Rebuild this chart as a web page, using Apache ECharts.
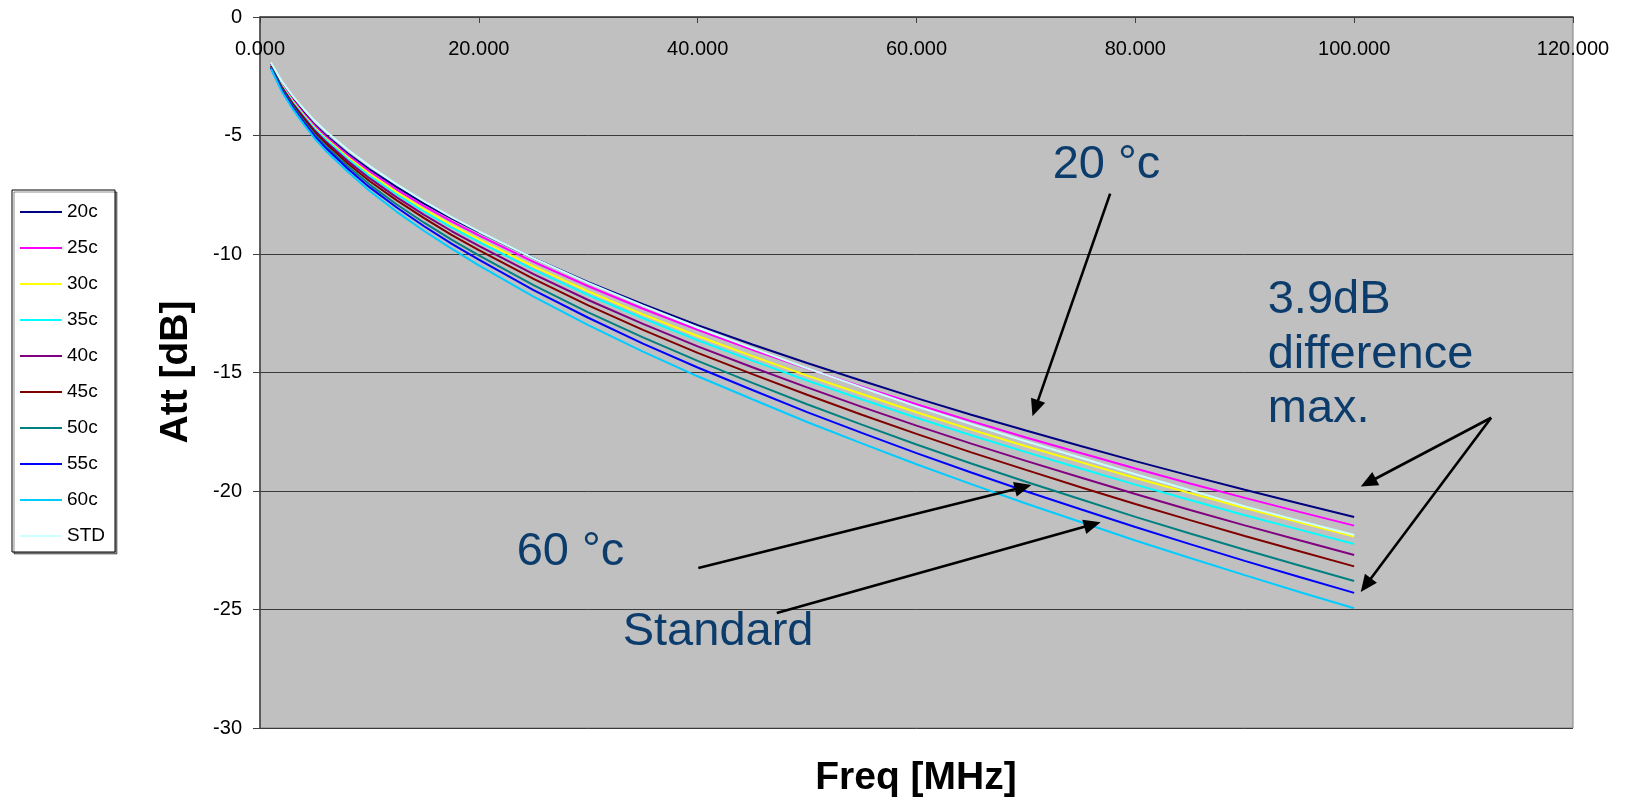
<!DOCTYPE html>
<html>
<head>
<meta charset="utf-8">
<script src="https://cdn.jsdelivr.net/npm/echarts@6/dist/echarts.min.js"></script>
<style>
html,body{margin:0;padding:0;background:#fff;}
#chart{width:1626px;height:803px;}
</style>
</head>
<body>
<div id="chart"></div>
<script>
// ---- data ----
const freq = [1,2,3,4,5,6,8,10,12.5,15,17.5,20,25,30,35,40,45,50,55,60,65,70,75,80,85,90,95,100];
const seriesNames = ['20c','25c','30c','35c','40c','45c','50c','55c','60c','STD'];
const att20c = [-1.97,-2.82,-3.47,-4.03,-4.55,-4.98,-5.75,-6.43,-7.18,-7.87,-8.50,-9.08,-10.18,-11.19,-12.12,-13.00,-13.82,-14.60,-15.35,-16.08,-16.78,-17.45,-18.10,-18.74,-19.35,-19.95,-20.53,-21.10];
const att25c = [-1.99,-2.85,-3.51,-4.08,-4.60,-5.04,-5.82,-6.51,-7.28,-7.98,-8.62,-9.21,-10.33,-11.36,-12.31,-13.20,-14.04,-14.83,-15.60,-16.34,-17.05,-17.74,-18.40,-19.05,-19.68,-20.29,-20.88,-21.46];
const att30c = [-2.02,-2.89,-3.56,-4.14,-4.67,-5.12,-5.91,-6.62,-7.40,-8.12,-8.77,-9.38,-10.52,-11.58,-12.55,-13.46,-14.31,-15.13,-15.91,-16.68,-17.41,-18.11,-18.78,-19.45,-20.09,-20.72,-21.32,-21.92];
const att35c = [-2.03,-2.92,-3.60,-4.18,-4.72,-5.17,-5.98,-6.70,-7.49,-8.21,-8.88,-9.49,-10.66,-11.73,-12.71,-13.64,-14.50,-15.34,-16.13,-16.91,-17.65,-18.36,-19.05,-19.73,-20.38,-21.02,-21.63,-22.24];
const att40c = [-2.06,-2.96,-3.65,-4.24,-4.79,-5.25,-6.07,-6.80,-7.61,-8.35,-9.03,-9.66,-10.85,-11.94,-12.95,-13.90,-14.78,-15.63,-16.45,-17.24,-18.00,-18.73,-19.43,-20.13,-20.80,-21.45,-22.08,-22.70];
const att45c = [-2.08,-3.00,-3.70,-4.30,-4.86,-5.33,-6.17,-6.92,-7.74,-8.49,-9.19,-9.84,-11.05,-12.17,-13.20,-14.17,-15.07,-15.94,-16.78,-17.59,-18.37,-19.11,-19.84,-20.55,-21.23,-21.90,-22.54,-23.18];
const att50c = [-2.12,-3.05,-3.77,-4.38,-4.96,-5.44,-6.29,-7.06,-7.91,-8.68,-9.39,-10.06,-11.31,-12.46,-13.52,-14.51,-15.44,-16.34,-17.20,-18.04,-18.84,-19.61,-20.35,-21.09,-21.79,-22.48,-23.14,-23.80];
const att55c = [-2.15,-3.09,-3.82,-4.45,-5.03,-5.52,-6.39,-7.18,-8.04,-8.83,-9.56,-10.24,-11.52,-12.69,-13.78,-14.79,-15.74,-16.67,-17.55,-18.40,-19.22,-20.01,-20.77,-21.52,-22.24,-22.95,-23.63,-24.30];
const att60c = [-2.18,-3.15,-3.89,-4.53,-5.13,-5.64,-6.52,-7.33,-8.22,-9.03,-9.77,-10.48,-11.80,-13.00,-14.12,-15.16,-16.13,-17.09,-17.99,-18.87,-19.71,-20.53,-21.31,-22.09,-22.83,-23.55,-24.26,-24.95];
const attSTD = [-1.92,-2.72,-3.34,-3.88,-4.38,-4.81,-5.59,-6.28,-7.06,-7.78,-8.44,-9.05,-10.18,-11.22,-12.18,-13.10,-13.97,-14.82,-15.63,-16.43,-17.18,-17.90,-18.60,-19.29,-19.97,-20.65,-21.26,-21.86];
const xTicks = [0,20,40,60,80,100,120];
const yTicks = [-30,-25,-20,-15,-10,-5,0];

// ---- annotation texts and arrows (anchored in data units) ----
const annoTexts = ['20 °c','60 °c','Standard','3.9dB','difference','max.'];
const annoAnchors = [[72.45,-6.25],[23.46,-22.58],[33.15,-25.96],[92.1,-11.95],[92.1,-14.25],[92.1,-16.55]];
const arrows = [
  [[77.7,-7.45],[70.6,-16.85]],
  [[40.06,-23.25],[70.5,-19.75]],
  [[47.23,-25.15],[76.83,-21.32]],
  [[112.52,-16.91],[100.6,-19.81]],
  [[112.52,-16.91],[100.6,-24.26]]
];

const colors = ['#000080','#FF00FF','#FFFF00','#00FFFF','#800080','#800000','#008080','#0000FF','#00CCFF','#CCFFFF'];
const allData = [att20c,att25c,att30c,att35c,att40c,att45c,att50c,att55c,att60c,attSTD];
const FONT = '"Liberation Sans", Arial, sans-serif';

const chart = echarts.init(document.getElementById('chart'), null, {renderer:'canvas'});
const option = {
  animation: false,
  backgroundColor: '#ffffff',
  color: colors,
  grid: {left:260, top:17, right:53, bottom:75, show:true, backgroundColor:'#C0C0C0', borderColor:'#808080', borderWidth:1},
  legend: {
    orient:'vertical', left:12, top:190,
    data: seriesNames.map(n => ({name:n, icon:'rect'})),
    itemWidth:42, itemHeight:2, itemGap:16,
    padding:[12,10,6,8],
    backgroundColor:'#ffffff', borderColor:'#000000', borderWidth:1,
    shadowColor:'rgba(0,0,0,0.45)', shadowOffsetX:2, shadowOffsetY:2, shadowBlur:0,
    textStyle:{fontSize:19, lineHeight:20, color:'#000', fontFamily:FONT},
    selectedMode:false
  },
  xAxis: {
    type:'value', position:'top', min:xTicks[0], max:xTicks[xTicks.length-1], interval:xTicks[1]-xTicks[0],
    axisLine:{show:true, onZero:false, lineStyle:{color:'#404040', width:1.5}},
    axisTick:{show:true, inside:true, length:6, lineStyle:{color:'#404040'}},
    axisLabel:{inside:true, margin:22, showMinLabel:true, showMaxLabel:true, fontSize:20, color:'#000', fontFamily:FONT,
      formatter: v => v.toFixed(3)},
    splitLine:{show:false}
  },
  yAxis: {
    type:'value', min:yTicks[0], max:yTicks[yTicks.length-1], interval:yTicks[1]-yTicks[0],
    axisLine:{show:true, onZero:false, lineStyle:{color:'#404040', width:1.5}},
    axisTick:{show:true, length:7, lineStyle:{color:'#404040'}},
    axisLabel:{margin:18, fontSize:20, color:'#000', fontFamily:FONT},
    splitLine:{show:true, lineStyle:{color:'#3a3a3a', width:1}}
  },
  series: seriesNames.map((n,i) => ({
    name:n, type:'line', symbol:'none', showSymbol:false,
    lineStyle:{width:2, color:colors[i]}, itemStyle:{color:colors[i]},
    data: freq.map((f,j) => [f, allData[i][j]])
  })),
  graphic: []
};
chart.setOption(option);

function drawAnnotations(){
  const g = [];
  g.push({type:'text', x:176, y:372, rotation:Math.PI/2, z:50,
    style:{text:'Att [dB]', font:'bold 39px '+FONT, fill:'#000', align:'center', verticalAlign:'middle'}});
  g.push({type:'text', x:916, y:778, z:50,
    style:{text:'Freq [MHz]', font:'bold 39px '+FONT, fill:'#000', align:'center', verticalAlign:'middle'}});
  annoTexts.forEach((t,i) => {
    const p = chart.convertToPixel({gridIndex:0}, annoAnchors[i]);
    g.push({type:'text', x:p[0], y:p[1], z:60,
      style:{text:t, font:'47px '+FONT, fill:'#0b3c6c', align:'left', verticalAlign:'middle'}});
  });
  arrows.forEach(a => {
    const p1 = chart.convertToPixel({gridIndex:0}, a[0]);
    const p2 = chart.convertToPixel({gridIndex:0}, a[1]);
    const dx = p2[0]-p1[0], dy = p2[1]-p1[1], L = Math.hypot(dx,dy);
    const ux = dx/L, uy = dy/L, hl = 17, hw = 7.5;
    const bx = p2[0]-ux*hl, by = p2[1]-uy*hl;
    g.push({type:'line', z:60, shape:{x1:p1[0], y1:p1[1], x2:bx+ux*2, y2:by+uy*2}, style:{stroke:'#000', lineWidth:2.6}});
    g.push({type:'polygon', z:60, shape:{points:[[p2[0],p2[1]],[bx-uy*hw, by+ux*hw],[bx+uy*hw, by-ux*hw]]}, style:{fill:'#000'}});
  });
  chart.setOption({graphic:g});
}
drawAnnotations();
</script>
</body>
</html>
